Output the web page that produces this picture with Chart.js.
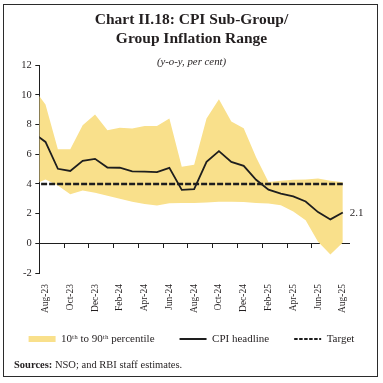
<!DOCTYPE html>
<html><head><meta charset="utf-8">
<script src="https://cdn.jsdelivr.net/npm/chart.js@4.4.1/dist/chart.umd.min.js"></script>
<style>
html,body{margin:0;padding:0;background:#fff;}
#wrap{position:relative;width:383px;height:383px;overflow:hidden;}
canvas{position:absolute;left:0;top:0;}
#frame{position:absolute;left:3px;top:3.5px;width:375px;height:373.5px;border:1.5px solid #2b2b2b;box-sizing:border-box;pointer-events:none;}
#src{position:absolute;left:14px;top:358px;font:10.5px "Liberation Serif",serif;color:#231f20;white-space:nowrap;line-height:13px;}
</style></head><body>
<div id="wrap"><canvas id="c" width="383" height="383"></canvas><div id="frame"></div><div id="src"><b>Sources:</b> NSO; and RBI staff estimates.</div></div>
<script>
// Months (Jul-23 is only partly visible at the left edge)
const months = ['Jul-23','Aug-23','Sep-23','Oct-23','Nov-23','Dec-23','Jan-24','Feb-24','Mar-24','Apr-24','May-24','Jun-24',
  'Jul-24','Aug-24','Sep-24','Oct-24','Nov-24','Dec-24','Jan-25','Feb-25','Mar-25','Apr-25','May-25','Jun-25','Jul-25','Aug-25'];
const tickLabels = ['Aug-23','Oct-23','Dec-23','Feb-24','Apr-24','Jun-24','Aug-24','Oct-24','Dec-24','Feb-25','Apr-25','Jun-25','Aug-25'];
// 90th percentile (upper edge of band)
const p90 = [10.47, 9.35, 6.34, 6.34, 7.96, 8.68, 7.62, 7.78, 7.73, 7.90, 7.91, 8.41,
  5.15, 5.30, 8.40, 9.70, 8.20, 7.75, 5.80, 4.13, 4.22, 4.28, 4.30, 4.37, 4.22, 4.12];
// 10th percentile (lower edge of band)
const p10 = [3.95, 4.30, 3.90, 3.30, 3.55, 3.40, 3.20, 3.00, 2.80, 2.65, 2.55, 2.70,
  2.72, 2.72, 2.75, 2.80, 2.80, 2.78, 2.72, 2.68, 2.56, 2.15, 1.55, 0.10, -0.75, 0.05];
// CPI headline inflation
const cpi = [7.44, 6.83, 5.02, 4.87, 5.55, 5.69, 5.10, 5.09, 4.85, 4.83, 4.80, 5.08,
  3.60, 3.65, 5.49, 6.21, 5.48, 5.22, 4.28, 3.61, 3.34, 3.16, 2.82, 2.10, 1.61, 2.07];
// Inflation target
const target = [4,4,4,4,4,4,4,4,4,4,4,4,4,4,4,4,4,4,4,4,4,4,4,4,4,4];

const FONT = 'Liberation Serif';
const TXT = '#231f20';
const AX = '#1e1e1e';
const BAND = '#F9E08B';

const pts = arr => arr.map((v, i) => ({x: i, y: v}));
const labelTicks = tickLabels.map(l => months.indexOf(l));
const boundaryTicks = labelTicks.map(v => v - 0.5);

Chart.defaults.font.family = FONT;

const endLabel = {
  id: 'endLabel',
  afterDatasetsDraw(chart) {
    const meta = chart.getDatasetMeta(2);
    const el = meta.data[meta.data.length - 1];
    const c = chart.ctx;
    c.save();
    c.font = '11px "' + FONT + '"';
    c.fillStyle = TXT;
    c.textAlign = 'left';
    c.textBaseline = 'middle';
    c.fillText(cpi[cpi.length - 1].toFixed(1), el.x + 7, el.y + 1);
    c.restore();
  }
};

// move the legend row a little closer to the axis labels
const legendNudge = {
  id: 'legendNudge',
  afterLayout(chart) {
    const l = chart.legend;
    if (l) { l.top -= 4.5; l.bottom -= 4.5; }
  }
};

new Chart(document.getElementById('c'), {
  type: 'line',
  data: {
    datasets: [
      {label: '10ᵗʰ to 90ᵗʰ percentile', data: pts(p90), borderWidth: 0, borderColor: 'rgba(0,0,0,0)',
       backgroundColor: BAND, fill: '+1', pointRadius: 0, pointStyle: 'rect', clip: 0},
      {label: 'p10', data: pts(p10), borderWidth: 0, borderColor: 'rgba(0,0,0,0)',
       backgroundColor: BAND, fill: false, pointRadius: 0, clip: 0},
      {label: 'CPI headline', data: pts(cpi), borderColor: AX, backgroundColor: AX, borderWidth: 1.8,
       pointRadius: 0, pointStyle: 'line', fill: false, clip: 0},
      {label: 'Target', data: pts(target), borderColor: AX, backgroundColor: AX, borderWidth: 2.5, borderDash: [6, 2],
       pointRadius: 0, pointStyle: 'line', fill: false, clip: 0}
    ]
  },
  options: {
    responsive: false,
    animation: false,
    devicePixelRatio: 1,
    layout: {padding: {left: 0, right: 0, top: 0, bottom: 24}},
    scales: {
      x: {
        type: 'linear', position: 'bottom', min: 0.5, max: 25.5,
        border: {display: false},
        grid: {display: false, drawTicks: false},
        afterBuildTicks: s => { s.ticks = labelTicks.map(v => ({value: v})); },
        afterFit: s => { s.height = 40; },
        ticks: {autoSkip: false, minRotation: 90, maxRotation: 90, padding: 11,
          font: {family: FONT, size: 9.5}, color: TXT, callback: v => months[v]}
      },
      xAxis: {
        type: 'linear', axis: 'x', position: {y: 0}, min: 0.5, max: 25.5, z: 1,
        border: {display: true, color: AX, width: 1},
        grid: {drawOnChartArea: false, drawTicks: true, tickLength: 4, color: AX},
        afterBuildTicks: s => { s.ticks = boundaryTicks.map(v => ({value: v})); },
        ticks: {display: false}
      },
      y: {
        min: -2, max: 12,
        border: {display: true, color: AX, width: 1},
        grid: {drawOnChartArea: false, drawTicks: true, tickLength: 4, color: AX},
        afterFit: s => { s.width = 39.3; },
        ticks: {stepSize: 2, padding: 3.6, font: {family: FONT, size: 10.5}, color: TXT}
      },
      yRight: {
        type: 'linear', axis: 'y', position: 'right', min: -2, max: 12,
        border: {display: false},
        grid: {display: false, drawTicks: false},
        ticks: {display: false},
        afterFit: s => { s.width = 34; }
      }
    },
    plugins: {
      filler: {drawTime: 'beforeDatasetsDraw'},
      tooltip: {enabled: false},
      title: {display: true, text: ['Chart II.18: CPI Sub-Group/', 'Group Inflation Range'], color: TXT,
        font: {family: FONT, size: 15.5, weight: 'bold', lineHeight: 19 / 15.5}, padding: {top: 10.8, bottom: 0}},
      subtitle: {display: true, text: '(y-o-y, per cent)', color: TXT,
        font: {family: FONT, size: 10.8, style: 'italic', lineHeight: 1.2}, padding: {top: 7, bottom: -3.6}},
      legend: {
        position: 'bottom', align: 'center',
        labels: {usePointStyle: true, pointStyleWidth: 27, boxHeight: 6, padding: 25, color: TXT,
          font: {family: FONT, size: 11},
          generateLabels: chart => Chart.defaults.plugins.legend.labels.generateLabels(chart)
            .filter(item => item.datasetIndex !== 1)
            .map(item => item.datasetIndex === 3 ? Object.assign({}, item, {lineDash: [3.5, 1.5], lineWidth: 2})
              : item.datasetIndex === 2 ? Object.assign({}, item, {lineWidth: 2}) : item)}
      }
    }
  },
  plugins: [endLabel, legendNudge]
});
</script>
</body></html>
